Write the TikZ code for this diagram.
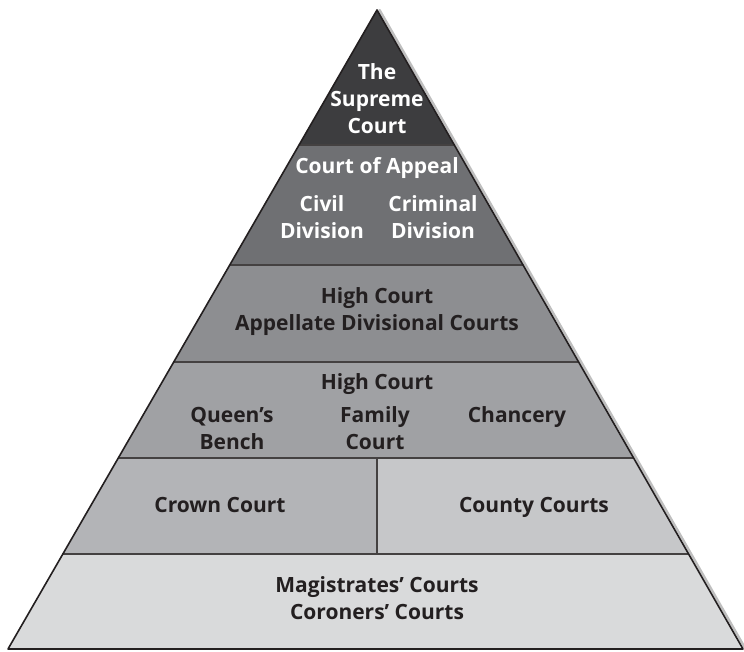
\documentclass[tikz,border=0pt]{standalone}
\usepackage{fontspec}
\setsansfont{Open Sans}
\usetikzlibrary{calc}
\definecolor{supremefill}{HTML}{3D3D3F}
\definecolor{appealfill}{HTML}{6F7073}
\definecolor{highafill}{HTML}{8D8E91}
\definecolor{highbfill}{HTML}{A0A1A4}
\definecolor{crownfill}{HTML}{B3B4B7}
\definecolor{countyfill}{HTML}{C6C7C9}
\definecolor{magfill}{HTML}{D9DADB}
\definecolor{inkdark}{HTML}{231F20}
\tikzset{
	courttext/.style={align=center,inner sep=0pt,font=\sffamily\bfseries\fontsize{21}{27}\selectfont},
	lighttext/.style={courttext,text=white},
	darktext/.style={courttext,text=inkdark},
	bandline/.style={draw=inkdark!85,line width=1.1pt}
}
\begin{document}
\begin{tikzpicture}[line cap=round,line join=round,x=1pt,y=-1pt]
		\useasboundingbox (0,0) rectangle (744,652);
		\coordinate (apex) at (377,10);
		\coordinate (bl) at (8,649);
		\coordinate (br) at (743,649);
		\foreach \n/\t in {1/0.2113,2/0.3991,3/0.5509,4/0.7011,5/0.8513}{
			\coordinate (l\n) at ($(apex)!\t!(bl)$);
			\coordinate (r\n) at ($(apex)!\t!(br)$);
		}
		\coordinate (m4) at (apex |- l4);
		\coordinate (m5) at (apex |- l5);
		% shadow
		\draw [line width=2.5pt,color=black!25] ([xshift=2.5pt]apex) -- ([xshift=2.5pt]br);
		% bands
		\fill [supremefill] (apex) -- (l1) -- (r1) -- cycle;
		\fill [appealfill] (l1) -- (l2) -- (r2) -- (r1) -- cycle;
		\fill [highafill] (l2) -- (l3) -- (r3) -- (r2) -- cycle;
		\fill [highbfill] (l3) -- (l4) -- (r4) -- (r3) -- cycle;
		\fill [crownfill] (l4) -- (l5) -- (m5) -- (m4) -- cycle;
		\fill [countyfill] (m4) -- (m5) -- (r5) -- (r4) -- cycle;
		\fill [magfill] (l5) -- (bl) -- (br) -- (r5) -- cycle;
		\foreach \n in {1,...,5}
			\draw [bandline] (l\n) -- (r\n);
		\draw [bandline] (m4) -- (m5);
		\draw [line width=1.6pt,color=inkdark] (apex) -- (bl) -- (br) -- cycle;
		% labels
		\node [lighttext] (supreme) at (377,99) {The\\Supreme\\Court};
		\node [lighttext] (appeal) at (377,168) {Court of Appeal};
		\node [lighttext] (civil) at (322,217) {Civil\\Division};
		\node [lighttext] (criminal) at (433,217) {Criminal\\Division};
		\node [darktext] (highapp) at (377,312) {High Court\\Appellate Divisional Courts};
		\node [darktext] (highdiv) at (377,384) {High Court};
		\node [darktext] (queens) at (232,428) {Queen’s\\Bench};
		\node [darktext] (family) at (375,428) {Family\\Court};
		\node [darktext] (chancery) at (517,417) {Chancery};
		\node [darktext] (crown) at (220,505) {Crown Court};
		\node [darktext] (county) at (534,507) {County Courts};
		\node [darktext] (magistrates) at (377,598) {Magistrates’ Courts\\Coroners’ Courts};
\end{tikzpicture}
\end{document}
